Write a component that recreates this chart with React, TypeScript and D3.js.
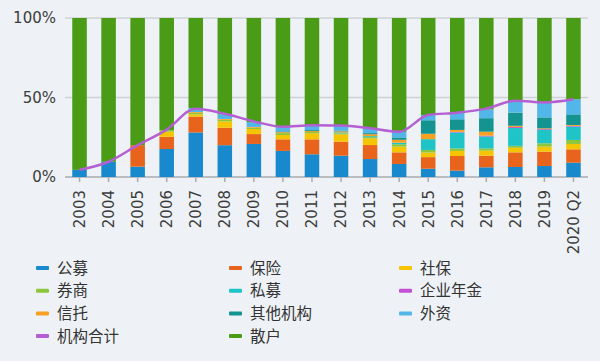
import React from 'react';
import * as d3 from 'd3';

const categories = ['2003', '2004', '2005', '2006', '2007', '2008', '2009', '2010', '2011', '2012', '2013', '2014', '2015', '2016', '2017', '2018', '2019', '2020 Q2'];

// percent of A-share free float held, per group
const gongmu = [4.5, 9.6, 6.5, 17.6, 28.0, 20.0, 20.8, 16.4, 14.3, 13.4, 11.3, 8.2, 5.2, 4.0, 6.1, 6.3, 6.9, 9.0];
const baoxian = [0, 0, 13.5, 7.7, 10.0, 11.0, 6.2, 7.3, 9.4, 8.8, 8.8, 7.3, 7.3, 9.2, 7.3, 9.2, 9.0, 8.4];
const shebao = [0, 0, 0, 3.2, 1.4, 4.0, 3.2, 2.7, 3.8, 4.7, 4.2, 3.6, 2.9, 3.2, 3.2, 2.9, 3.2, 3.4];
const quanshang = [0, 0, 0, 1.0, 1.0, 1.0, 0.8, 1.2, 0.8, 0.6, 0.8, 1.5, 1.6, 1.6, 1.4, 1.2, 2.1, 2.5];
const simu = [0, 0, 0, 0, 0, 0, 0, 0, 0, 0.5, 0.6, 1.0, 6.8, 10.0, 7.5, 11.2, 8.4, 8.4];
const nianjin = [0, 0, 0, 0, 0, 0, 0, 0, 0, 0, 0, 0, 0, 0.4, 0.5, 0.6, 0.5, 0.5];
const xintuo = [0, 0, 0, 0, 0.5, 0.5, 0.5, 0.6, 0.6, 0.7, 1.2, 1.8, 3.4, 1.2, 2.5, 0.8, 0.5, 0.5];
const qita = [0, 0, 0, 0, 0, 0, 0, 0.5, 0.6, 0.5, 0.7, 1.5, 8.5, 6.7, 8.5, 8.3, 6.9, 6.7];
const waizi = [0, 0, 0, 0, 2.5, 3.0, 3.0, 2.7, 2.8, 3.1, 3.0, 3.5, 3.3, 3.9, 5.5, 7.3, 9.2, 9.5];
const sanhu = [95.5, 90.4, 80.0, 70.5, 56.6, 60.5, 65.5, 68.6, 67.7, 67.7, 69.4, 71.6, 61.0, 59.8, 57.5, 52.2, 53.3, 51.1];
const jigouTotal = [4.5, 9.6, 20.0, 29.8, 43.0, 39.8, 35.0, 31.6, 32.5, 32.4, 30.6, 28.4, 39.0, 40.4, 43.0, 48.0, 46.9, 48.9];

const yTicks = [0, 50, 100];

const seriesNames = ['公募', '保险', '社保', '券商', '私募', '企业年金', '信托', '其他机构', '外资', '散户'];
const seriesValues = [gongmu, baoxian, shebao, quanshang, simu, nianjin, xintuo, qita, waizi, sanhu];
const colors = ['#1889cd', '#e8631c', '#f5c500', '#8cc63f', '#1fc4c6', '#c152d6', '#f7a021', '#139490', '#52b7e8', '#4a9b16'];
const lineColor = '#b45fd2';

const legendItems = [
  { name: '公募', color: colors[0] },
  { name: '保险', color: colors[1] },
  { name: '社保', color: colors[2] },
  { name: '券商', color: colors[3] },
  { name: '私募', color: colors[4] },
  { name: '企业年金', color: colors[5] },
  { name: '信托', color: colors[6] },
  { name: '其他机构', color: colors[7] },
  { name: '外资', color: colors[8] },
  { name: '机构合计', color: lineColor },
  { name: '散户', color: colors[9] },
];

const App = () => {
  const width = 600, height = 361;
  const left = 65, right = 588, top = 18, bottom = 177;

  const rows = categories.map((c, i) => {
    const r: any = { cat: c };
    seriesNames.forEach((n, k) => { r[n] = seriesValues[k][i]; });
    return r;
  });
  const stacked = d3.stack().keys(seriesNames).offset(d3.stackOffsetExpand)(rows);

  const x = d3.scaleBand().domain(categories).range([left, right]).paddingInner(0.5).paddingOuter(0.25);
  const y = d3.scaleLinear().domain([0, 1]).range([bottom, top]);
  const yp = d3.scaleLinear().domain([0, 100]).range([bottom, top]);
  const bw = x.bandwidth();

  const line = d3.line<number>()
    .x((d, i) => x(categories[i])! + bw / 2)
    .y(d => yp(d))
    .curve(d3.curveMonotoneX);

  const font = '"DejaVu Sans", sans-serif';
  const cjk = '"Noto Sans CJK SC", "Noto Sans", sans-serif';

  return (
    <div style={{ position: 'fixed', left: 0, top: 0 }}>
      <svg width={width} height={height} style={{ display: 'block' }}>
        <rect width={width} height={height} fill="#eef2f6" />
        {yTicks.map(t => (
          <g key={t}>
            <line x1={left} x2={right} y1={yp(t)} y2={yp(t)} stroke={t === 0 ? '#a9adb1' : '#cfd2d5'} strokeWidth={1.5} />
            <text x={56} y={yp(t)} dy="0.36em" textAnchor="end" fontSize={15} fontFamily={font} fill="#3c3c3c">{t}%</text>
          </g>
        ))}
        {stacked.map((s, k) => (
          <g key={k} fill={colors[k]}>
            {s.map((d, i) => (
              <rect key={i} x={x(categories[i])} y={y(d[1])} width={bw} height={Math.max(0, y(d[0]) - y(d[1]))} />
            ))}
          </g>
        ))}
        <path d={line(jigouTotal) || ''} fill="none" stroke={lineColor} strokeWidth={2.5} />
        {categories.map(c => {
          const cx = x(c)! + bw / 2;
          return (
            <g key={c}>
              <line x1={cx} x2={cx} y1={bottom} y2={bottom + 5} stroke="#a9adb1" strokeWidth={1.5} />
              <text transform={`translate(${cx},${190}) rotate(-90)`} dy="0.36em" textAnchor="end" fontSize={15} fontFamily={font} fill="#3c3c3c">{c}</text>
            </g>
          );
        })}
        {legendItems.map((it, i) => {
          const col = i % 3, row = Math.floor(i / 3);
          const lx = [36, 229, 399][col];
          const ly = 268 + row * 22.7;
          return (
            <g key={it.name}>
              <rect x={lx} y={ly - 2} width={13} height={4} rx={1} fill={it.color} />
              <text x={lx + 21} y={ly} dy="0.36em" fontSize={15.5} fontFamily={cjk} fill="#333">{it.name}</text>
            </g>
          );
        })}
      </svg>
    </div>
  );
};

export default App;
